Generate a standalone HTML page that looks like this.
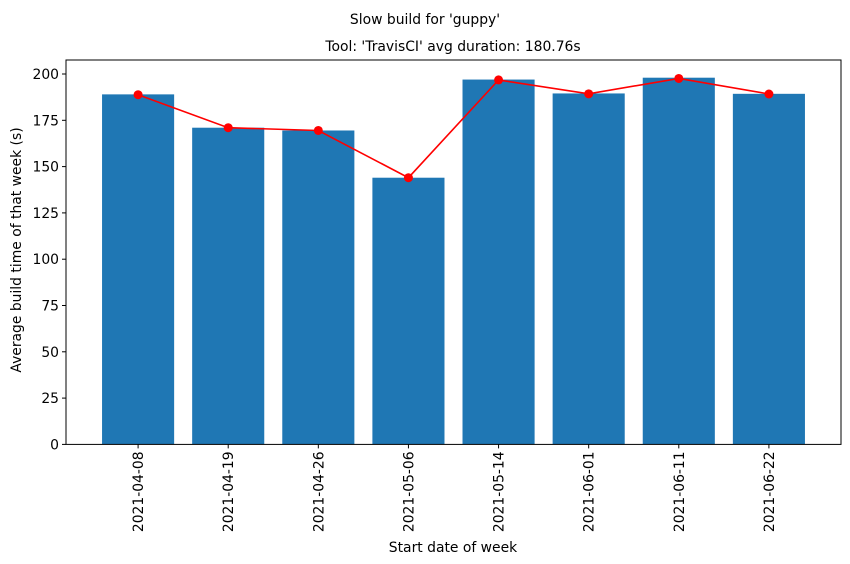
<!DOCTYPE html>
<html><head><meta charset="utf-8"><style>body{margin:0;background:#fff}svg{display:block;font-family:"DejaVu Sans","Liberation Sans",sans-serif}</style></head>
<body>
<svg id="chart" width="850" height="564">
<text x="425" y="24" font-size="13.9" text-anchor="middle">Slow build for 'guppy'</text>
<text x="453" y="51" font-size="13.9" text-anchor="middle">Tool: 'TravisCI' avg duration: 180.76s</text>
<g id="bars"></g><g id="line"></g><g id="axes"></g>
<text x="453" y="552" font-size="13.9" text-anchor="middle">Start date of week</text>
<text transform="translate(21,250) rotate(-90)" font-size="13.9" text-anchor="middle">Average build time of that week (s)</text>
</svg>
<script>
const categories=["2021-04-08","2021-04-19","2021-04-26","2021-05-06","2021-05-14","2021-06-01","2021-06-11","2021-06-22"];
const barValues=[189,171,169.5,144,197,189.5,198,189.3];
const lineValues=[188.8,171,169.5,144,196.8,189.3,197.6,189.2];
const yTicks=[0,25,50,75,100,125,150,175,200];
const L=66,R=841,T=60,B=444.4;
const x=i=>L+(i+0.8)*(R-L)/8.6;
const y=v=>B-v*1.852;
const NS="http://www.w3.org/2000/svg";
function mk(t,a,p){const e=document.createElementNS(NS,t);for(const k in a)e.setAttribute(k,a[k]);p.appendChild(e);return e;}
const gb=document.getElementById('bars'),gl=document.getElementById('line'),ga=document.getElementById('axes');
const bw=0.8*(R-L)/8.6;
barValues.forEach((v,i)=>{const r=mk('rect',{x:x(i)-bw/2,y:y(v),width:bw,height:B-y(v),fill:'#1f77b4'},gb);

});
const pl=mk('polyline',{points:lineValues.map((v,i)=>x(i)+','+y(v)).join(' '),fill:'none',stroke:'red','stroke-width':1.6},gl);


lineValues.forEach((v,i)=>{const c=mk('circle',{cx:x(i),cy:y(v),r:4.5,fill:'red'},gl);

});
const fr=mk('rect',{x:L,y:T,width:R-L,height:B-T,fill:'none',stroke:'#000','stroke-width':1},ga);


yTicks.forEach(v=>{mk('line',{x1:L-4,x2:L,y1:y(v),y2:y(v),stroke:'#000'},ga);
const t=mk('text',{x:L-7,y:y(v)+5,'font-size':13.9,'text-anchor':'end'},ga);t.textContent=v;

});
categories.forEach((c,i)=>{mk('line',{x1:x(i),x2:x(i),y1:B,y2:B+4,stroke:'#000'},ga);
const t=mk('text',{transform:`translate(${x(i)+5},${B+7}) rotate(-90)`,'font-size':13.9,'text-anchor':'end'},ga);t.textContent=c;

});
</script>
</body></html>
